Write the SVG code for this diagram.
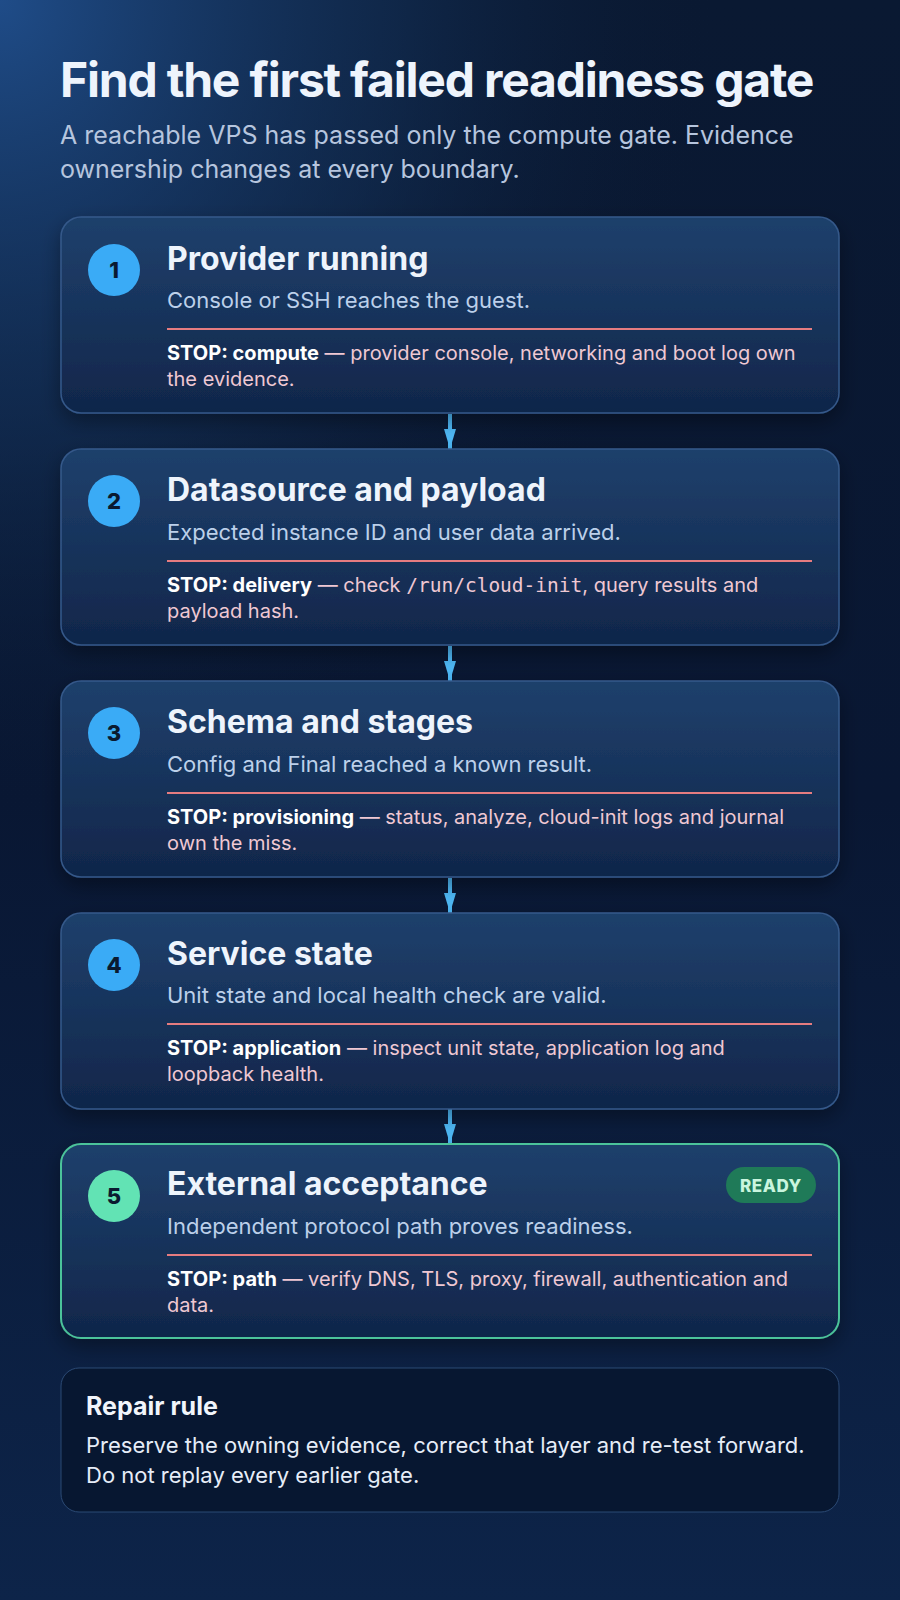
<svg xmlns="http://www.w3.org/2000/svg" width="900" height="1600" viewBox="0 0 900 1600">
<defs>
  <linearGradient id="bgLin" x1="0" y1="0" x2="0" y2="1">
    <stop offset="0" stop-color="#0a1932"/>
    <stop offset="0.5" stop-color="#091733"/>
    <stop offset="1" stop-color="#0d2449"/>
  </linearGradient>
  <radialGradient id="bgGlow" cx="0" cy="0" r="1" gradientUnits="userSpaceOnUse" gradientTransform="translate(0 0) scale(720 820)">
    <stop offset="0" stop-color="#1f4c88" stop-opacity="1"/>
    <stop offset="0.55" stop-color="#15355f" stop-opacity="0.5"/>
    <stop offset="1" stop-color="#0a1932" stop-opacity="0"/>
  </radialGradient>
  <linearGradient id="cardFill" x1="0" y1="0" x2="0" y2="1">
    <stop offset="0" stop-color="#1f406c"/>
    <stop offset="1" stop-color="#10264a"/>
  </linearGradient>
  <filter id="shadow" x="-10%" y="-10%" width="120%" height="130%">
    <feDropShadow dx="0" dy="8" stdDeviation="10" flood-color="#000000" flood-opacity="0.35"/>
  </filter>
  <marker id="arrow" viewBox="0 0 20 12" refX="20" refY="6" markerWidth="20" markerHeight="12" markerUnits="userSpaceOnUse" orient="auto">
    <path d="M0,0 L20,6 L0,12 Z" fill="#4fbaf8"/>
  </marker>
  <style>
    text { font-family: Inter, "Noto Sans", "Liberation Sans", sans-serif; }
    .card { fill: url(#cardFill); stroke: #35598a; stroke-width: 1.5; filter: url(#shadow); }
    .card-ok { fill: url(#cardFill); stroke: #4cc39a; stroke-width: 2; filter: url(#shadow); }
    .badge { fill: #3aabf6; }
    .badge-ok { fill: #62e3b4; }
    .num { font-size: 22px; font-weight: 800; fill: #0a1a30; text-anchor: middle; }
    .title { font-size: 32px; font-weight: 700; fill: #eef4fc; }
    .sub { font-size: 22px; fill: #bcd0ea; }
    .rule { stroke: #e57c80; stroke-width: 2; }
    .stop { font-size: 20px; fill: #efc8d3; }
    .stop-b { font-weight: 700; fill: #ffffff; }
    .mono { font-family: "DejaVu Sans Mono", "Liberation Mono", monospace; font-size: 19.5px; }
    .conn { stroke: #4fbaf8; stroke-width: 4; fill: none; }
  </style>
</defs>

<rect x="0" y="0" width="900" height="1600" fill="url(#bgLin)"/>
<rect x="0" y="0" width="900" height="1600" fill="url(#bgGlow)"/>

<g id="header">
  <text x="60" y="97" font-size="48" font-weight="700" fill="#eef4fc" letter-spacing="-1.2">Find the first failed readiness gate</text>
  <text x="60" y="144" font-size="25" fill="#b6c5de">A reachable VPS has passed only the compute gate. Evidence</text>
  <text x="60" y="178" font-size="25" fill="#b6c5de">ownership changes at every boundary.</text>
</g>

<g id="connectors">
  <line class="conn" x1="450" y1="414" x2="450" y2="449" marker-end="url(#arrow)"/>
  <line class="conn" x1="450" y1="646" x2="450" y2="681" marker-end="url(#arrow)"/>
  <line class="conn" x1="450" y1="878" x2="450" y2="913" marker-end="url(#arrow)"/>
  <line class="conn" x1="450" y1="1109" x2="450" y2="1144" marker-end="url(#arrow)"/>
</g>

<g id="gate1">
  <rect class="card" x="61" y="217" width="778" height="196" rx="20"/>
  <circle class="badge" cx="114" cy="270" r="26"/>
  <text class="num" x="114" y="278">1</text>
  <text class="title" x="167" y="270">Provider running</text>
  <text class="sub" x="167" y="308">Console or SSH reaches the guest.</text>
  <line class="rule" x1="167" y1="329" x2="812" y2="329"/>
  <text class="stop" x="167" y="360"><tspan class="stop-b">STOP: compute</tspan> — provider console, networking and boot log own</text>
  <text class="stop" x="167" y="386">the evidence.</text>
</g>

<g id="gate2">
  <rect class="card" x="61" y="449" width="778" height="196" rx="20"/>
  <circle class="badge" cx="114" cy="501" r="26"/>
  <text class="num" x="114" y="509">2</text>
  <text class="title" x="167" y="501">Datasource and payload</text>
  <text class="sub" x="167" y="540">Expected instance ID and user data arrived.</text>
  <line class="rule" x1="167" y1="561" x2="812" y2="561"/>
  <text class="stop" x="167" y="592"><tspan class="stop-b">STOP: delivery</tspan> — check <tspan class="mono">/run/cloud-init</tspan>, query results and</text>
  <text class="stop" x="167" y="618">payload hash.</text>
</g>

<g id="gate3">
  <rect class="card" x="61" y="681" width="778" height="196" rx="20"/>
  <circle class="badge" cx="114" cy="733" r="26"/>
  <text class="num" x="114" y="741">3</text>
  <text class="title" x="167" y="733">Schema and stages</text>
  <text class="sub" x="167" y="772">Config and Final reached a known result.</text>
  <line class="rule" x1="167" y1="793" x2="812" y2="793"/>
  <text class="stop" x="167" y="824"><tspan class="stop-b">STOP: provisioning</tspan> — status, analyze, cloud-init logs and journal</text>
  <text class="stop" x="167" y="850">own the miss.</text>
</g>

<g id="gate4">
  <rect class="card" x="61" y="913" width="778" height="196" rx="20"/>
  <circle class="badge" cx="114" cy="965" r="26"/>
  <text class="num" x="114" y="973">4</text>
  <text class="title" x="167" y="965">Service state</text>
  <text class="sub" x="167" y="1003">Unit state and local health check are valid.</text>
  <line class="rule" x1="167" y1="1024" x2="812" y2="1024"/>
  <text class="stop" x="167" y="1055"><tspan class="stop-b">STOP: application</tspan> — inspect unit state, application log and</text>
  <text class="stop" x="167" y="1081">loopback health.</text>
</g>

<g id="gate5">
  <rect class="card-ok" x="61" y="1144" width="778" height="194" rx="20"/>
  <circle class="badge-ok" cx="114" cy="1196" r="26"/>
  <text class="num" x="114" y="1204">5</text>
  <text class="title" x="167" y="1195">External acceptance</text>
  <rect x="726" y="1167" width="90" height="36" rx="18" fill="#1f7a58"/>
  <text x="771" y="1191.5" font-size="17" font-weight="800" fill="#c9f5de" text-anchor="middle" letter-spacing="0.6">READY</text>
  <text class="sub" x="167" y="1234">Independent protocol path proves readiness.</text>
  <line class="rule" x1="167" y1="1255" x2="812" y2="1255"/>
  <text class="stop" x="167" y="1286"><tspan class="stop-b">STOP: path</tspan> — verify DNS, TLS, proxy, firewall, authentication and</text>
  <text class="stop" x="167" y="1312">data.</text>
</g>

<g id="repair-rule">
  <rect x="61" y="1368" width="778" height="144" rx="18" fill="#071731" stroke="#2b4a75" stroke-width="1"/>
  <text x="86" y="1415" font-size="25" font-weight="700" fill="#f1f5fb">Repair rule</text>
  <text x="86" y="1453" font-size="22" fill="#e6edf8">Preserve the owning evidence, correct that layer and re-test forward.</text>
  <text x="86" y="1483" font-size="22" fill="#e6edf8">Do not replay every earlier gate.</text>
</g>
</svg>
